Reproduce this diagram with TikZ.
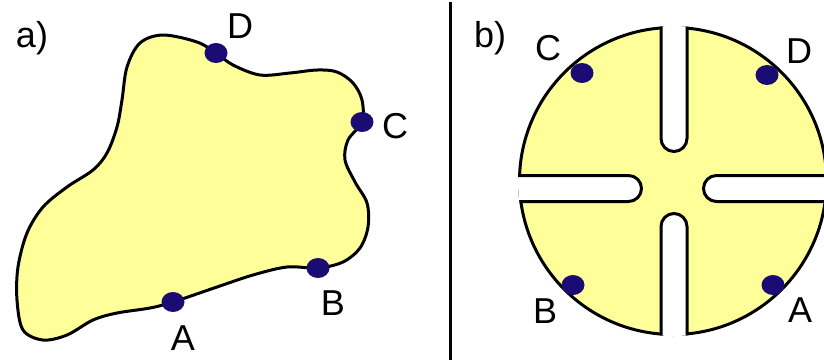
\documentclass[tikz,border=0pt]{standalone}
\usepackage{fontspec}
\setmainfont{Liberation Sans}
\usetikzlibrary{shapes.geometric}
\definecolor{padyellow}{HTML}{FFFF99}
\definecolor{dotblue}{HTML}{1B0C74}
\tikzset{
  contact/.style={ellipse, fill=dotblue, inner sep=0pt, minimum width=23pt, minimum height=20pt},
  tag/.style={anchor=base, inner sep=0pt, font=\fontsize{36}{40}\selectfont},
  edge/.style={line width=3pt, draw=black, line join=round},
}

\begin{document}
\begin{tikzpicture}[x=1pt, y=-1pt]
  \clip (0,0) rectangle (824,362);

  % --- a) campione di forma arbitraria
  \draw[edge, fill=padyellow] plot[smooth cycle, tension=0.55] coordinates {
    (163,35) (197,42) (216,53) (233,65) (260,75) (290,73) (317,70) (337,72)
    (353,83) (362,100) (362,122) (348,140) (345,160) (355,182) (367,203) (368,227)
    (360,248) (343,262) (318,268) (287,267) (253,275) (217,287) (173,302) (150,308)
    (117,313) (93,320) (67,335) (43,340) (23,330) (17,300) (18,267) (27,233)
    (43,207) (67,187) (93,170) (107,153) (117,127) (122,100) (127,67) (140,43)};
  \foreach \n/\x/\y in {aA/173/302, aB/318/268, aC/362/122, aD/216/53}{ \node[contact] (\n) at (\x,\y) {}; }
  \node[tag] (ta)  at (32,47)   {a)};
  \node[tag] (taD) at (240,38)  {D};
  \node[tag] (taC) at (395,138) {C};
  \node[tag] (taB) at (333,315) {B};
  \node[tag] (taA) at (183,350) {A};

  % --- separatore
  \draw[line width=3pt] (450,2) -- (450,360);

  % --- b) campione a trifoglio (disco con quattro tagli)
  \coordinate (ctr) at (673,181);
  \draw[edge, fill=padyellow] (ctr) circle (153.5);
  \begin{scope}
    \clip (ctr) circle (155);
    \draw[edge, fill=white] (661,-10) -- (661,138.5) arc (180:0:13) -- (687,-10);
    \draw[edge, fill=white] (661,400) -- (661,226.5) arc (180:360:13) -- (687,400);
    \draw[edge, fill=white] (400,175.5) -- (628.5,175.5) arc (270:450:13) -- (400,201.5);
    \draw[edge, fill=white] (900,175.5) -- (716.5,175.5) arc (270:90:13) -- (900,201.5);
  \end{scope}
  \foreach \n/\x/\y in {bA/773/285, bB/573/285, bC/582/73, bD/767/75}{ \node[contact] (\n) at (\x,\y) {}; }
  \node[tag] (tb)  at (490,47)  {b)};
  \node[tag] (tbC) at (548,60)  {C};
  \node[tag] (tbD) at (799,63)  {D};
  \node[tag] (tbB) at (545,323) {B};
  \node[tag] (tbA) at (800,322) {A};
\end{tikzpicture}
\end{document}
